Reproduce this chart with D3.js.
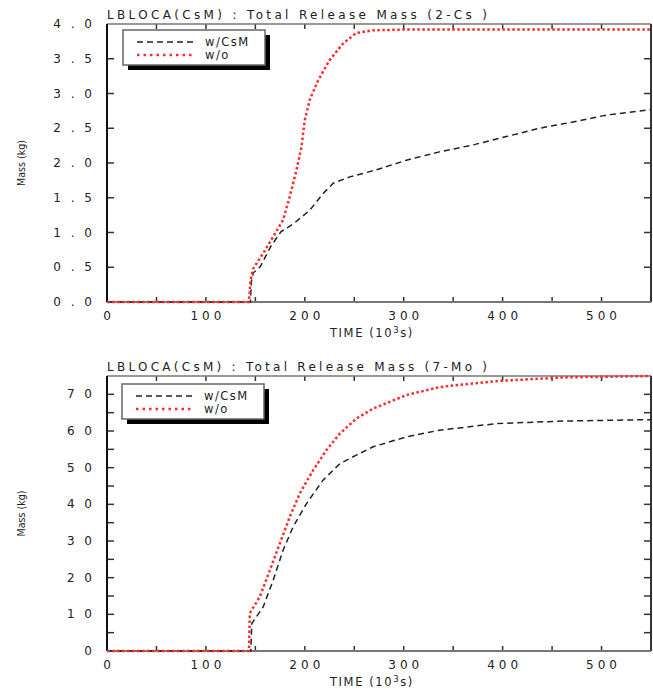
<!DOCTYPE html>
<html>
<head>
<meta charset="utf-8">
<script src="https://cdn.jsdelivr.net/npm/d3@7"></script>
<style>
  body { margin: 0; background: #fff; }
  text { font-family: "DejaVu Sans", sans-serif; fill: #222; }
</style>
</head>
<body>
<div class="chart"></div>
<script>
const width = 653;
const height = 689;

// time in 10^3 s
const csTimeCsm = [0, 145, 146, 148, 155, 165.6, 175.8, 189, 205, 218.5, 228.8, 245.5, 272, 302.7, 336, 370, 403.7, 437, 471, 505, 545, 550];
const csMassCsm = [0, 0, 0.3, 0.42, 0.51, 0.8, 1.01, 1.13, 1.32, 1.56, 1.71, 1.8, 1.9, 2.04, 2.16, 2.26, 2.38, 2.5, 2.59, 2.69, 2.76, 2.77];
const csTimeWo = [0, 143.5, 145, 147.8, 157.9, 168, 178, 184.8, 191.6, 196.6, 200, 205, 213.5, 225, 238.7, 252, 269, 300, 550];
const csMassWo = [0, 0, 0.3, 0.48, 0.7, 0.94, 1.18, 1.52, 1.9, 2.23, 2.62, 2.91, 3.19, 3.48, 3.72, 3.87, 3.91, 3.92, 3.92];

const moTimeCsm = [0, 145.4, 146.4, 157.9, 168, 178, 188.2, 201.7, 218.4, 235.4, 252, 269, 302.7, 336, 393, 460, 550];
const moMassCsm = [0, 0, 7.5, 12, 19.3, 27.5, 33.9, 40.2, 46.6, 51.1, 53.4, 55.7, 58.4, 60.2, 62, 62.7, 63.1];
const moTimeWo = [0, 143.5, 144.4, 154.5, 164.6, 174.7, 184.8, 194.9, 208.4, 221.9, 235.4, 252.2, 269, 302.7, 336.4, 393, 460, 550];
const moMassWo = [0, 0, 10.3, 14.8, 22, 29.3, 36.6, 43, 49.3, 54.8, 59.3, 63.4, 66.1, 69.8, 72, 73.6, 74.6, 75];

const xTicksMajor = [0, 100, 200, 300, 400, 500];
const xTicksMinor = [50, 150, 250, 350, 450];
const csYTicks = [0, 0.5, 1, 1.5, 2, 2.5, 3, 3.5, 4];
const csYLabels = ["0 . 0", "0 . 5", "1 . 0", "1 . 5", "2 . 0", "2 . 5", "3 . 0", "3 . 5", "4 . 0"];
const moYTicks = [0, 10, 20, 30, 40, 50, 60, 70];
const moYMinor = [5, 15, 25, 35, 45, 55, 65, 75];
const moYLabels = ["0", "1 0", "2 0", "3 0", "4 0", "5 0", "6 0", "7 0"];
const legendNames = ["w/CsM", "w/o"];

const svg = d3
  .select(".chart")
  .append("svg")
  .attr("width", width)
  .attr("height", height);

drawPanel({
  top: 24, bottom: 302, yMax: 4,
  yTicks: csYTicks, yLabels: csYLabels, yMinor: [],
  title: "LBLOCA(CsM) : Total Release Mass (2-Cs )",
  csm: [csTimeCsm, csMassCsm], wo: [csTimeWo, csMassWo],
  legendX: 123, legendY: 30
});

drawPanel({
  top: 376, bottom: 651, yMax: 75,
  yTicks: moYTicks, yLabels: moYLabels, yMinor: moYMinor,
  title: "LBLOCA(CsM) : Total Release Mass (7-Mo )",
  csm: [moTimeCsm, moMassCsm], wo: [moTimeWo, moMassWo],
  legendX: 122, legendY: 384
});

function drawPanel(cfg) {
  const left = 107, right = 651;
  const x = d3.scaleLinear().domain([0, 550]).range([left, right]);
  const y = d3.scaleLinear().domain([0, cfg.yMax]).range([cfg.bottom, cfg.top]);
  const g = svg.append("g");

  // ticks (inward on all four sides)
  const tick = (xs, len, horizontal) => {
    xs.forEach((v) => {
      if (horizontal) {
        g.append("line").attr("x1", left).attr("x2", left + len)
          .attr("y1", y(v)).attr("y2", y(v)).attr("stroke", "#333").attr("stroke-width", 1.5);
        g.append("line").attr("x1", right).attr("x2", right - len)
          .attr("y1", y(v)).attr("y2", y(v)).attr("stroke", "#333").attr("stroke-width", 1.5);
      } else {
        g.append("line").attr("x1", x(v)).attr("x2", x(v))
          .attr("y1", cfg.bottom).attr("y2", cfg.bottom - len).attr("stroke", "#333").attr("stroke-width", 1.5);
        g.append("line").attr("x1", x(v)).attr("x2", x(v))
          .attr("y1", cfg.top).attr("y2", cfg.top + len).attr("stroke", "#333").attr("stroke-width", 1.5);
      }
    });
  };
  tick(xTicksMajor.concat(xTicksMinor).filter((v) => v > 0), 5, false);
  tick(cfg.yTicks.concat(cfg.yMinor).filter((v) => v > 0 && v < cfg.yMax), 7, true);

  // frame
  g.append("line").attr("x1", left).attr("x2", right).attr("y1", cfg.top).attr("y2", cfg.top)
    .attr("stroke", "#777").attr("stroke-width", 1.5);
  g.append("line").attr("x1", right).attr("x2", right).attr("y1", cfg.top).attr("y2", cfg.bottom)
    .attr("stroke", "#333").attr("stroke-width", 2);
  g.append("line").attr("x1", left).attr("x2", right).attr("y1", cfg.bottom).attr("y2", cfg.bottom)
    .attr("stroke", "#777").attr("stroke-width", 2);
  g.append("line").attr("x1", left).attr("x2", left).attr("y1", cfg.top).attr("y2", cfg.bottom)
    .attr("stroke", "#111").attr("stroke-width", 2);

  // tick labels
  g.selectAll(".xl").data(xTicksMajor).enter().append("text")
    .attr("x", (d) => x(d) + 2).attr("y", cfg.bottom + 18)
    .attr("text-anchor", "middle").style("font-size", "12px").style("letter-spacing", "4px")
    .text((d) => String(d));
  g.selectAll(".yl").data(cfg.yTicks).enter().append("text")
    .attr("x", 95).attr("y", (d) => y(d) + 4)
    .attr("text-anchor", "end").style("font-size", "12px").style("letter-spacing", "3px")
    .text((d, i) => cfg.yLabels[i]);

  // titles
  g.append("text").attr("x", left).attr("y", cfg.top - 5)
    .style("font-size", "12px").attr("textLength", 380).attr("lengthAdjust", "spacing")
    .text(cfg.title);
  const xl = g.append("text").attr("x", 330).attr("y", cfg.bottom + 35)
    .style("font-size", "11.5px").style("letter-spacing", "1.6px");
  xl.append("tspan").text("TIME  (10");
  xl.append("tspan").attr("dy", -4).style("font-size", "8.5px").text("3");
  xl.append("tspan").attr("dy", 4).text("s)");
  g.append("text")
    .attr("transform", `translate(25, ${(cfg.top + cfg.bottom) / 2}) rotate(-90)`)
    .attr("text-anchor", "middle").style("font-size", "11px").attr("textLength", 46)
    .attr("lengthAdjust", "spacingAndGlyphs")
    .text("Mass (kg)");

  // curves
  const line = d3.line().x((d) => x(d[0])).y((d) => y(d[1]));
  const zip = (a) => a[0].map((t, i) => [t, a[1][i]]);
  g.append("path").attr("d", line(zip(cfg.csm))).attr("fill", "none")
    .attr("stroke", "#222").attr("stroke-width", 1.5).attr("stroke-dasharray", "6,4");
  g.append("path").attr("d", line(zip(cfg.wo))).attr("fill", "none")
    .attr("stroke", "#ff2a2a").attr("stroke-width", 2.5).attr("stroke-dasharray", "2.5,2.5");

  // legend
  const lg = g.append("g").attr("transform", `translate(${cfg.legendX}, ${cfg.legendY})`);
  lg.append("rect").attr("x", 5).attr("y", 5).attr("width", 142).attr("height", 35).attr("fill", "#000");
  lg.append("rect").attr("x", 0).attr("y", 0).attr("width", 142).attr("height", 35)
    .attr("fill", "#fff").attr("stroke", "#666").attr("stroke-width", 1.5);
  lg.append("line").attr("x1", 14).attr("x2", 70).attr("y1", 12).attr("y2", 12)
    .attr("stroke", "#222").attr("stroke-width", 1.5).attr("stroke-dasharray", "6,4");
  lg.append("line").attr("x1", 14).attr("x2", 70).attr("y1", 25).attr("y2", 25)
    .attr("stroke", "#ff2a2a").attr("stroke-width", 2.5).attr("stroke-dasharray", "2.5,4");
  lg.selectAll(".lt").data(legendNames).enter().append("text")
    .attr("x", 82).attr("y", (d, i) => 16 + i * 13)
    .style("font-size", "11.5px").style("letter-spacing", "1.5px")
    .text((d) => d);
}
</script>
</body>
</html>
